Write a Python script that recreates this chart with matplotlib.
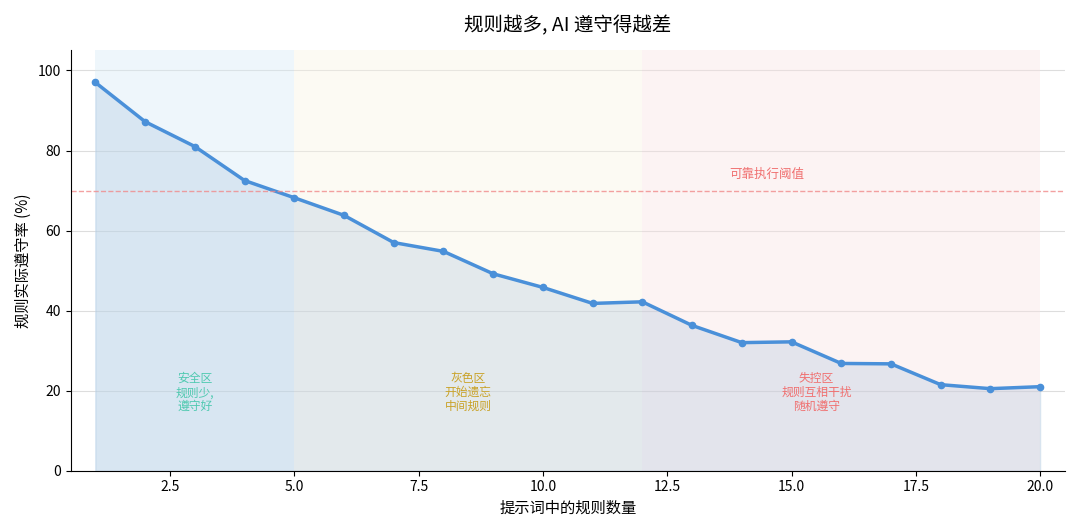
import numpy as np
import matplotlib.pyplot as plt

plt.rcParams['font.family'] = ['Noto Sans CJK SC', 'DejaVu Sans']

rule_counts = list(range(1, 21))
compliance = [97, 87.2, 81, 72.5, 68.2, 63.8, 57, 54.8, 49.2, 45.8,
              41.8, 42.2, 36.3, 32, 32.2, 26.8, 26.7, 21.5, 20.5, 21]
threshold = 70
zones = [(1, 5, "#d6eaf5", "安全区\n规则少,\n遵守好", "#4fc9b0", 3),
         (5, 12, "#f8f3e3", "灰色区\n开始遗忘\n中间规则", "#c9a227", 8.5),
         (12, 20, "#f8e1e1", "失控区\n规则互相干扰\n随机遵守", "#f07070", 15.5)]

fig, ax = plt.subplots(figsize=(10.8, 5.32), dpi=100)

for x0, x1, c, label, tc, xc in zones:
    ax.axvspan(x0, x1, color=c, alpha=0.4, lw=0)
    ax.text(xc, 19.5, label, ha="center", va="center", fontsize=8.5, color=tc, linespacing=1.1)

ax.fill_between(rule_counts, compliance, color="#9ab8d8", alpha=0.25)
ax.plot(rule_counts, compliance, color="#4a90d9", lw=2.5, marker="o", ms=4.5)
ax.axhline(threshold, color="#f08a8a", ls="--", lw=1, alpha=0.8)
ax.text(14.5, 72.5, "可靠执行阈值", ha="center", va="bottom", fontsize=9, color="#f07070")

ax.set_xlim(0.5, 20.5)
ax.set_ylim(0, 105)
ax.set_xticks([2.5, 5, 7.5, 10, 12.5, 15, 17.5, 20])
ax.set_yticks([0, 20, 40, 60, 80, 100])
ax.grid(axis="y", color="#dddddd", lw=0.8)
ax.set_axisbelow(True)
for s in ["top", "right"]:
    ax.spines[s].set_visible(False)
ax.tick_params(labelsize=10)
ax.set_xlabel("提示词中的规则数量", fontsize=11)
ax.set_ylabel("规则实际遵守率 (%)", fontsize=11)
ax.set_title("规则越多, AI 遵守得越差", fontsize=14, pad=14)

plt.tight_layout()
plt.savefig("out.png", dpi=100)
